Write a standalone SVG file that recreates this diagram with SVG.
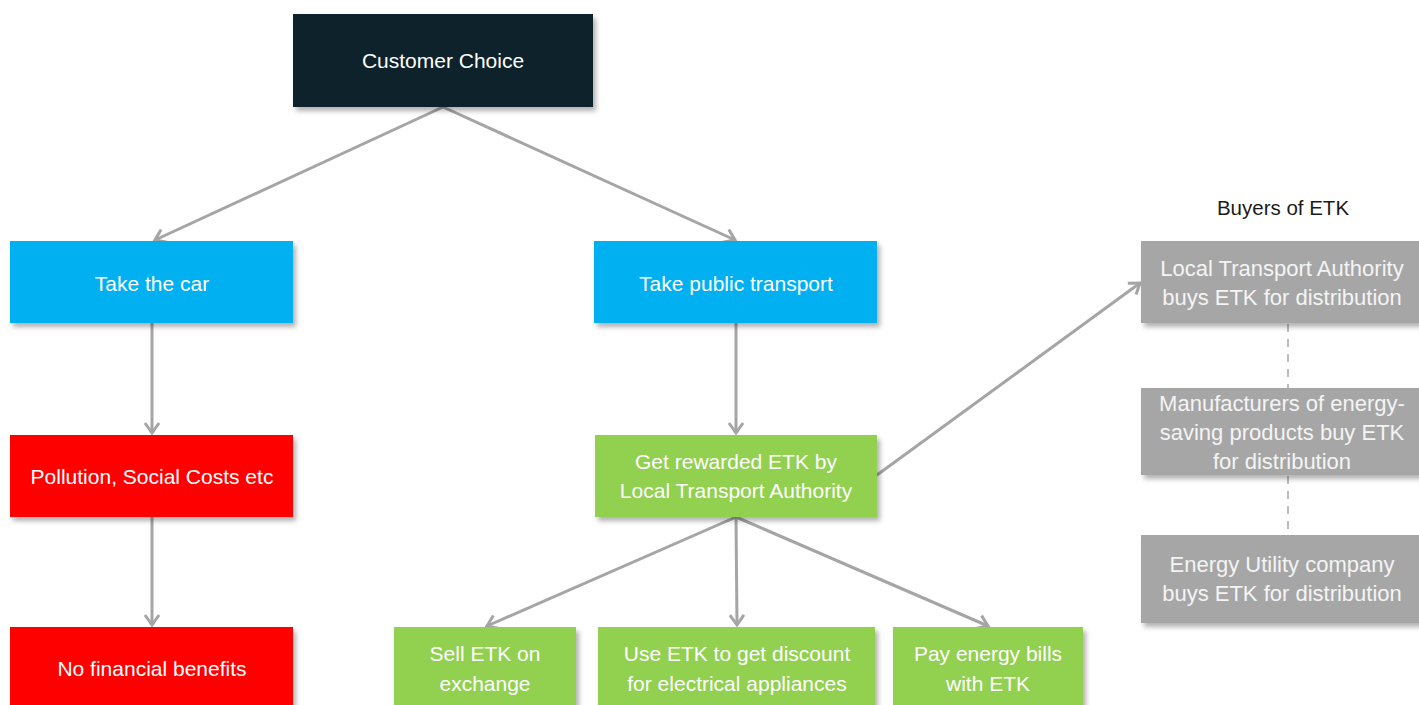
<svg xmlns="http://www.w3.org/2000/svg" width="1419" height="705" viewBox="0 0 1419 705">
<style>
  .lbl { font-family: "Liberation Sans", Arial, sans-serif; font-size: 21px; fill: #ffffff; text-anchor: middle; dominant-baseline: central; }
  .glbl { fill: #f4f4f4; font-size: 22px; }
  .title { font-family: "Liberation Sans", Arial, sans-serif; font-size: 20.5px; fill: #1b1b1b; text-anchor: middle; dominant-baseline: central; }
  .conn { stroke: #a5a5a5; stroke-width: 3; fill: none; marker-end: url(#arr); }
  .dash { stroke: #bdbdbd; stroke-width: 2; fill: none; stroke-dasharray: 8 7; }
  .box { filter: url(#sh); }
</style>
<defs>
  <filter id="sh" x="-10%" y="-10%" width="125%" height="130%">
    <feDropShadow dx="3" dy="4" stdDeviation="2.5" flood-color="#000" flood-opacity="0.3"/>
  </filter>
  <marker id="arr" markerUnits="userSpaceOnUse" markerWidth="20" markerHeight="20" viewBox="0 0 20 20" refX="17" refY="10" orient="auto">
    <path d="M7,3 L17,10 L7,17" fill="none" stroke="#a5a5a5" stroke-width="3"/>
  </marker>
</defs>
<rect width="1419" height="705" fill="#ffffff"/>

<g id="connectors">
  <line class="conn" x1="443" y1="107" x2="155" y2="240"/>
  <line class="conn" x1="443" y1="107" x2="735" y2="240"/>
  <line class="conn" x1="152" y1="323" x2="152" y2="433"/>
  <line class="conn" x1="152" y1="517" x2="152" y2="625"/>
  <line class="conn" x1="736" y1="323" x2="736" y2="433"/>
  <line class="conn" x1="736" y1="517" x2="487" y2="626"/>
  <line class="conn" x1="736" y1="517" x2="737" y2="625"/>
  <line class="conn" x1="736" y1="517" x2="988" y2="626"/>
  <line class="conn" x1="877" y1="475" x2="1140" y2="283"/>
  <line class="dash" x1="1288" y1="324" x2="1288" y2="388"/>
  <line class="dash" x1="1288" y1="476" x2="1288" y2="535"/>
</g>

<g id="customer-choice">
  <rect class="box" x="293" y="14" width="300" height="93" fill="#0e2129"/>
  <text class="lbl" x="443" y="60">Customer Choice</text>
</g>

<g id="take-car">
  <rect class="box" x="10" y="241" width="283" height="82" fill="#00b0f0"/>
  <text class="lbl" x="152" y="283">Take the car</text>
</g>

<g id="take-public">
  <rect class="box" x="594" y="241" width="283" height="82" fill="#00b0f0"/>
  <text class="lbl" x="736" y="283">Take public transport</text>
</g>

<g id="pollution">
  <rect class="box" x="10" y="435" width="283" height="82" fill="#ff0000"/>
  <text class="lbl" x="152" y="476">Pollution, Social Costs etc</text>
</g>

<g id="no-benefits">
  <rect class="box" x="10" y="627" width="283" height="90" fill="#ff0000"/>
  <text class="lbl" x="152" y="668">No financial benefits</text>
</g>

<g id="get-rewarded">
  <rect class="box" x="595" y="435" width="282" height="82" fill="#92d050"/>
  <text class="lbl" x="736" y="461">Get rewarded ETK by</text>
  <text class="lbl" x="736" y="490">Local Transport Authority</text>
</g>

<g id="sell-etk">
  <rect class="box" x="394" y="627" width="182" height="90" fill="#92d050"/>
  <text class="lbl" x="485" y="653">Sell ETK on</text>
  <text class="lbl" x="485" y="683">exchange</text>
</g>

<g id="use-etk">
  <rect class="box" x="598" y="627" width="277" height="90" fill="#92d050"/>
  <text class="lbl" x="737" y="653">Use ETK to get discount</text>
  <text class="lbl" x="737" y="683">for electrical appliances</text>
</g>

<g id="pay-bills">
  <rect class="box" x="893" y="627" width="190" height="90" fill="#92d050"/>
  <text class="lbl" x="988" y="653">Pay energy bills</text>
  <text class="lbl" x="988" y="683">with ETK</text>
</g>

<g id="buyers-title">
  <text class="title" x="1283" y="207">Buyers of ETK</text>
</g>

<g id="buyer-lta">
  <rect class="box" x="1141" y="241" width="283" height="82" fill="#a6a6a6"/>
  <text class="lbl glbl" x="1282" y="268">Local Transport Authority</text>
  <text class="lbl glbl" x="1282" y="297">buys ETK for distribution</text>
</g>

<g id="buyer-manufacturers">
  <rect class="box" x="1141" y="388" width="283" height="87" fill="#a6a6a6"/>
  <text class="lbl glbl" x="1282" y="403">Manufacturers of energy-</text>
  <text class="lbl glbl" x="1282" y="432">saving products buy ETK</text>
  <text class="lbl glbl" x="1282" y="461">for distribution</text>
</g>

<g id="buyer-utility">
  <rect class="box" x="1141" y="535" width="283" height="88" fill="#a6a6a6"/>
  <text class="lbl glbl" x="1282" y="564">Energy Utility company</text>
  <text class="lbl glbl" x="1282" y="593">buys ETK for distribution</text>
</g>
</svg>
